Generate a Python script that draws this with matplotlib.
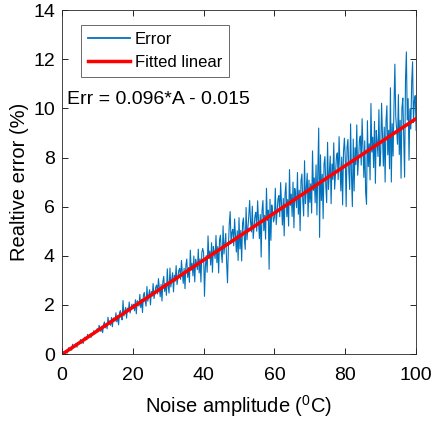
import numpy as np
import matplotlib
matplotlib.use("Agg")
import matplotlib.pyplot as plt

plt.rcParams['font.family'] = ['Liberation Sans', 'DejaVu Sans']
plt.rcParams['mathtext.default'] = 'regular'

# noise amplitude, step 0.25 degC
amplitude = np.linspace(0, 100, 401)

# relative error (%)
rel_error = [
    # 0 - 9.75
    0.00, 0.01, 0.10, 0.07, 0.03, 0.15, 0.04, 0.20, 0.27, 0.15,
    0.25, 0.16, 0.40, 0.29, 0.35, 0.29, 0.44, 0.28, 0.46, 0.45,
    0.43, 0.59, 0.44, 0.56, 0.43, 0.64, 0.69, 0.61, 0.58, 0.80,
    0.67, 0.74, 0.82, 0.68, 0.84, 0.81, 0.95, 0.82, 0.89, 0.97,
    # 10 - 19.75
    1.04, 0.92, 1.17, 1.04, 0.92, 1.13, 0.87, 1.20, 1.31, 1.07,
    1.22, 1.03, 1.50, 1.23, 1.35, 1.17, 1.49, 1.11, 1.47, 1.42,
    1.34, 1.68, 1.31, 1.56, 1.19, 1.68, 1.77, 1.53, 1.39, 2.18,
    1.55, 1.72, 1.90, 1.46, 1.87, 1.73, 2.12, 1.67, 1.84, 2.03,
    # 20 - 29.75
    1.87, 2.03, 1.76, 2.21, 1.64, 2.17, 2.07, 1.95, 2.43, 1.89,
    2.23, 1.69, 2.39, 2.51, 2.15, 1.95, 2.75, 2.15, 2.38, 2.62,
    2.00, 2.55, 2.36, 2.87, 2.26, 2.48, 2.73, 2.81, 2.45, 3.07,
    2.68, 2.33, 2.83, 2.16, 2.94, 3.16, 2.55, 2.88, 2.39, 3.47,
    # 30 - 39.75
    2.75, 2.48, 3.50, 2.73, 3.02, 3.31, 2.53, 3.21, 2.97, 3.60,
    2.83, 3.10, 3.41, 3.49, 3.04, 3.81, 3.31, 2.88, 3.49, 2.66,
    3.61, 3.87, 3.12, 3.52, 2.92, 4.23, 3.42, 3.69, 3.18, 3.99,
    2.94, 3.86, 3.67, 3.44, 4.27, 3.30, 3.88, 2.93, 4.12, 4.30,
    # 40 - 49.75
    4.13, 2.35, 3.56, 4.01, 3.33, 4.81, 3.89, 4.19, 3.62, 4.53,
    3.33, 4.38, 4.15, 3.89, 4.83, 3.72, 4.38, 3.30, 4.64, 4.84,
    4.13, 3.72, 5.22, 4.07, 4.49, 4.91, 3.74, 2.90, 4.36, 5.29,
    5.80, 4.52, 4.96, 5.08, 4.41, 5.50, 4.78, 4.15, 5.02, 3.81,
    # 50 - 59.75
    5.55, 4.28, 5.03, 3.79, 5.32, 5.54, 4.73, 4.26, 5.97, 4.65,
    5.13, 5.60, 6.25, 5.40, 4.97, 6.02, 4.70, 5.14, 5.63, 5.77,
    5.00, 6.24, 5.42, 4.70, 5.68, 3.95, 5.84, 6.25, 5.02, 5.65,
    4.68, 6.75, 5.44, 5.86, 3.45, 6.30, 4.63, 6.07, 5.75, 5.38,
    # 60 - 69.75
    5.57, 6.75, 5.27, 5.76, 6.31, 6.45, 5.59, 6.98, 6.06, 5.25,
    6.34, 4.81, 6.52, 6.97, 5.59, 6.29, 5.21, 7.51, 6.05, 6.51,
    5.60, 7.00, 5.14, 6.74, 6.38, 5.96, 7.39, 5.69, 6.67, 5.02,
    7.05, 7.33, 6.25, 5.62, 7.87, 6.12, 6.74, 7.36, 5.59, 7.08,
    # 70 - 79.75
    6.17, 6.93, 5.74, 8.27, 6.66, 7.17, 6.16, 7.70, 5.66, 7.41,
    9.20, 4.75, 8.11, 6.25, 7.32, 5.51, 7.73, 8.04, 6.85, 6.16,
    8.62, 6.70, 7.38, 8.06, 6.12, 7.74, 7.11, 8.60, 6.71, 7.33,
    8.02, 8.19, 7.10, 8.85, 7.67, 6.64, 8.02, 6.07, 8.23, 8.79,
    # 80 - 89.75
    7.97, 6.00, 8.41, 8.74, 7.45, 6.70, 9.37, 7.28, 6.00, 8.75,
    6.64, 8.40, 7.71, 9.33, 7.28, 7.94, 8.69, 8.88, 7.69, 9.58,
    8.31, 7.19, 8.68, 6.57, 6.10, 9.50, 7.63, 8.56, 7.09, 10.20,
    8.22, 8.83, 7.59, 9.47, 6.95, 9.10, 8.61, 8.04, 9.95, 7.65,
    # 90 - 100
    8.19, 10.21, 8.85, 7.65, 9.24, 7.00, 9.47, 10.11, 8.11, 9.11,
    7.54, 10.84, 7.00, 9.38, 8.06, 10.06, 11.80, 9.67, 9.15, 8.54,
    10.56, 8.12, 9.52, 7.16, 10.03, 10.42, 8.88, 7.20, 11.16, 12.30,
    9.53, 10.40, 7.89, 9.98, 9.16, 11.07, 11.90, 9.42, 10.30, 10.52,
    9.11,
]

# fitted linear model
slope = 0.096
intercept = -0.015
fit_x = [0, 100]
fit_y = [slope * v + intercept for v in fit_x]

fig = plt.figure(figsize=(4.33, 4.23), dpi=100)
ax = fig.add_axes([0.143, 0.163, 0.818, 0.813])

ax.plot(amplitude, rel_error, color='#0072BD', linewidth=0.8, label='Error')
ax.plot(fit_x, fit_y, color='red', linewidth=2.5, label='Fitted linear')

ax.set_xlim(0, 100)
ax.set_ylim(0, 14)
ax.set_xticks(range(0, 101, 20))
ax.set_yticks(range(0, 15, 2))
ax.tick_params(direction='in', top=True, right=True, labelsize=14, length=4, width=0.6)
ax.tick_params(axis='x', pad=9)
ax.tick_params(axis='y', pad=5)
for s in ax.spines.values():
    s.set_linewidth(0.6)
    s.set_color('#262626')

ax.set_xlabel('Noise amplitude ($^{0}$C)', fontsize=14.5, labelpad=7)
ax.set_ylabel('Realtive error (%)', fontsize=14.5, labelpad=3)

leg = ax.legend(loc='upper left', bbox_to_anchor=(0.054, 0.957), fontsize=12,
                fancybox=False, edgecolor='#262626', handlelength=2.5,
                borderpad=0.42, labelspacing=0.5, handletextpad=0.3,
                borderaxespad=0)
leg.get_frame().set_linewidth(0.6)
leg.get_lines()[0].set_linewidth(1.3)

ax.text(1.4, 10.36, 'Err = 0.096*A - 0.015', fontsize=14, va='center', ha='left')

fig.savefig('out.png', dpi=100)
